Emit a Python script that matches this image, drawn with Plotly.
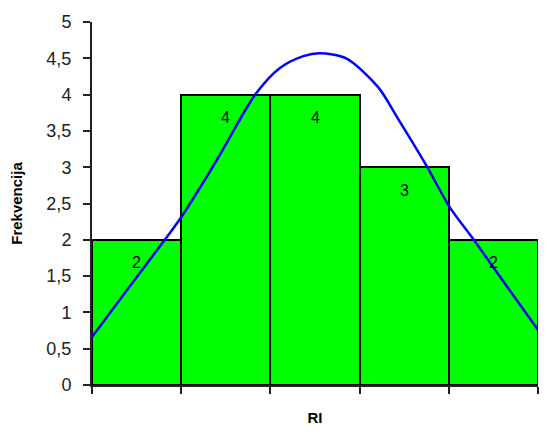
import plotly.graph_objects as go

# histogram bins (RI classes) and frequencies
bins = [1, 2, 3, 4, 5]
freq = [2, 4, 4, 3, 2]

# fitted normal curve (x in bin units)
curve_x = [0.5, 0.95, 1.34, 1.50, 1.91, 2.33, 2.61, 2.87, 3.05, 3.35, 3.71, 3.93, 4.25, 4.51, 4.78, 5.22, 5.5]
curve_y = [0.66, 1.40, 2.04, 2.31, 3.12, 4.0, 4.37, 4.53, 4.57, 4.50, 4.10, 3.67, 3.02, 2.45, 2.0, 1.24, 0.76]

y_ticks = [0, 0.5, 1, 1.5, 2, 2.5, 3, 3.5, 4, 4.5, 5]
y_labels = [str(v).replace('.', ',') for v in y_ticks]

fig = go.Figure()
fig.add_trace(go.Bar(x=bins, y=freq, width=1,
                     marker=dict(color='#00FF00', line=dict(color='black', width=2)),
                     hoverinfo='skip'))
fig.add_trace(go.Scatter(x=curve_x, y=curve_y, mode='lines', line_shape='spline',
                         line=dict(color='#0000FF', width=2.5, smoothing=0.8), cliponaxis=False))

# count labels just under the bar tops
for b, f in zip(bins, freq):
    fig.add_annotation(x=b, y=f, text=str(f), showarrow=False, yshift=-23,
                       font=dict(size=16, color='black'))

# page body has an 8px margin and the right edge gets clipped, keep the plot inside
fig.update_layout(
    width=539, height=426,
    margin=dict(l=84, r=9, t=14, b=49, autoexpand=False),
    paper_bgcolor='white', plot_bgcolor='white',
    showlegend=False, bargap=0,
    font=dict(family='Liberation Sans, Arial, sans-serif', color='black'),
)
fig.update_xaxes(range=[0.5, 5.5], tickvals=[0.5, 1.5, 2.5, 3.5, 4.5, 5.5], showticklabels=False,
                 ticks='outside', ticklen=7, tickwidth=1.5, tickcolor='#222', automargin=False,
                 showline=True, linecolor='#222', linewidth=1.5, showgrid=False, zeroline=False,
                 title=dict(text='<b>RI</b>', font=dict(size=15), standoff=20))
fig.update_yaxes(range=[0, 5], tickvals=y_ticks, ticktext=y_labels,
                 ticks='outside', ticklen=7, tickwidth=1.5, tickcolor='#222', automargin=False,
                 showline=True, linecolor='#222', linewidth=2, showgrid=False, zeroline=False,
                 tickfont=dict(size=18, color='#222'), ticklabelstandoff=8,
                 title=dict(text='<b>Frekvencija</b>', font=dict(size=15), standoff=20))

fig.write_html("out.html")
